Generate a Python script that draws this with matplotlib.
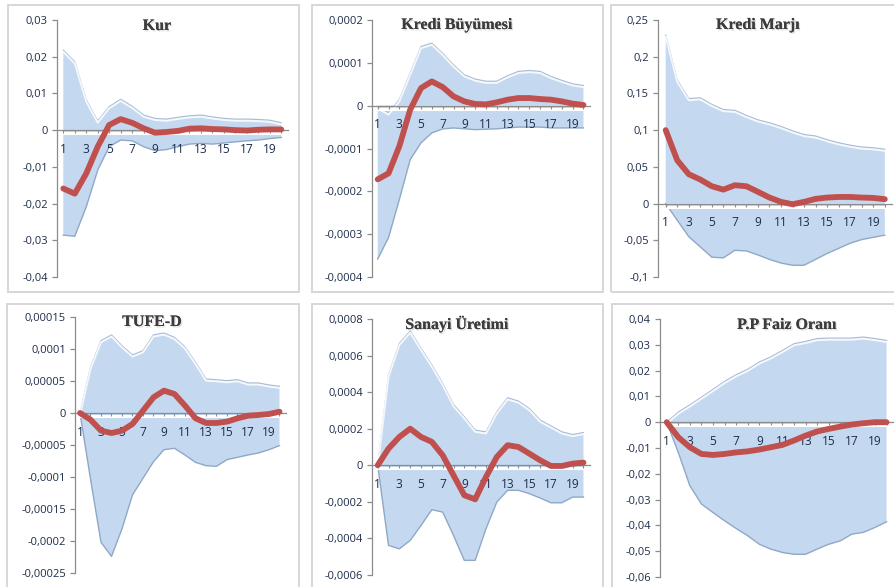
import matplotlib
matplotlib.use("Agg")
import matplotlib.pyplot as plt
import matplotlib.transforms as mtransforms
import matplotlib.patheffects as pe
from matplotlib.patches import Rectangle

# ---------------- data ----------------
periods = list(range(1, 21))

titles = ["Kur", "Kredi Büyümesi", "Kredi Marjı", "TUFE-D", "Sanayi Üretimi", "P.P Faiz Oranı"]

kur_irf = [-0.0159, -0.0173, -0.0118, -0.0045, 0.0014, 0.0030, 0.0020, 0.0005, -0.0007, -0.0005,
           -0.0002, 0.0004, 0.0005, 0.0003, 0.0002, 0.0000, -0.0001, 0.0001, 0.0002, 0.0002]
kur_upper = [0.0218, 0.0186, 0.0082, 0.0025, 0.0064, 0.0084, 0.0065, 0.0041, 0.0032, 0.0030,
             0.0035, 0.0039, 0.0041, 0.0036, 0.0032, 0.0030, 0.0030, 0.0029, 0.0027, 0.0020]
kur_lower = [-0.0286, -0.0289, -0.0209, -0.0109, -0.0045, -0.0027, -0.0029, -0.0045, -0.0056, -0.0053,
             -0.0045, -0.0038, -0.0036, -0.0038, -0.0035, -0.0032, -0.0029, -0.0027, -0.0023, -0.0020]
kur_ticks = [-0.04, -0.03, -0.02, -0.01, 0.0, 0.01, 0.02, 0.03]
kur_ticklabels = ["-0,04", "-0,03", "-0,02", "-0,01", "0", "0,01", "0,02", "0,03"]

kb_irf = [-0.000172, -0.000158, -0.0000946, -0.0000093, 0.000041, 0.0000566, 0.0000434, 0.0000217, 0.00001, 0.000004,
          0.000003, 0.0000078, 0.000014, 0.0000178, 0.0000178, 0.0000155, 0.000014, 0.00001, 0.0000047, 0.0000016]
kb_upper = [-0.000003, -0.000017, 0.000014, 0.000076, 0.000138, 0.000146, 0.000122, 0.000095, 0.000072, 0.000062,
            0.000057, 0.000057, 0.00007, 0.00008, 0.000082, 0.00008, 0.000068, 0.000059, 0.000051, 0.000047]
kb_lower = [-0.000358, -0.000308, -0.000219, -0.000126, -0.0000868, -0.0000636, -0.0000543, -0.000052, -0.000054, -0.000056,
            -0.000055, -0.000054, -0.000052, -0.00005, -0.00005, -0.00005, -0.000052, -0.000052, -0.000052, -0.000052]
kb_ticks = [-0.0004, -0.0003, -0.0002, -0.0001, 0.0, 0.0001, 0.0002]
kb_ticklabels = ["-0,0004", "-0,0003", "-0,0002", "-0,0001", "0", "0,0001", "0,0002"]

km_irf = [0.100, 0.059, 0.040, 0.0327, 0.0236, 0.019, 0.025, 0.0236, 0.016, 0.0082,
          0.0023, -0.0009, 0.0023, 0.0064, 0.0082, 0.009, 0.009, 0.0082, 0.0077, 0.006]
km_upper = [0.2295, 0.168, 0.143, 0.144, 0.135, 0.128, 0.127, 0.120, 0.114, 0.110,
            0.105, 0.099, 0.094, 0.092, 0.087, 0.0827, 0.0795, 0.077, 0.076, 0.074]
km_lower = [0.0, -0.0227, -0.045, -0.059, -0.073, -0.074, -0.0636, -0.0645, -0.070, -0.076,
            -0.081, -0.084, -0.084, -0.076, -0.068, -0.061, -0.054, -0.049, -0.046, -0.043]
km_ticks = [-0.1, -0.05, 0.0, 0.05, 0.1, 0.15, 0.2, 0.25]
km_ticklabels = ["-0,1", "-0,05", "0", "0,05", "0,1", "0,15", "0,2", "0,25"]

tufe_irf = [0.0, -0.0000104, -0.0000276, -0.0000313, -0.0000276, -0.0000172, 0.0000036, 0.0000245, 0.0000349, 0.0000297,
            0.0000115, -0.0000083, -0.0000156, -0.0000156, -0.0000135, -0.0000083, -0.0000042, -0.0000031, -0.0000016, 0.000002]
tufe_upper = [0.0, 0.0000714, 0.000113, 0.000122, 0.000105, 0.0000906, 0.0000974, 0.000122, 0.000125, 0.000118,
              0.000103, 0.0000792, 0.0000531, 0.000052, 0.0000505, 0.000052, 0.0000469, 0.0000469, 0.0000438, 0.0000417]
tufe_lower = [0.0, -0.000103, -0.000202, -0.000224, -0.000181, -0.000128, -0.000102, -0.000076, -0.0000573, -0.0000552,
              -0.0000656, -0.0000771, -0.0000823, -0.0000833, -0.0000729, -0.0000693, -0.0000656, -0.0000625, -0.0000573, -0.000051]
tufe_ticks = [-0.00025, -0.0002, -0.00015, -0.0001, -0.00005, 0.0, 0.00005, 0.0001, 0.00015]
tufe_ticklabels = ["-0,00025", "-0,0002", "-0,00015", "-0,0001", "-0,00005", "0", "0,00005", "0,0001", "0,00015"]

su_irf = [0.0, 0.0000913, 0.000155, 0.0002, 0.000155, 0.000128, 0.0000548, -0.0000548, -0.000164, -0.000186,
          -0.0000639, 0.0000457, 0.00011, 0.0001, 0.0000639, 0.0000274, -0.0000037, -0.0000037, 0.0000091, 0.0000146]
su_upper = [0.0, 0.000493, 0.000667, 0.000734, 0.000639, 0.000548, 0.000447, 0.000332, 0.000265, 0.000192,
            0.000183, 0.000292, 0.000369, 0.000351, 0.00031, 0.000247, 0.000215, 0.000183, 0.000168, 0.000179]
su_lower = [0.0, -0.000438, -0.000457, -0.000411, -0.000329, -0.000243, -0.000256, -0.000384, -0.00052, -0.00052,
            -0.000347, -0.000201, -0.000137, -0.000137, -0.000155, -0.000179, -0.000205, -0.000205, -0.000174, -0.000174]
su_ticks = [-0.0006, -0.0004, -0.0002, 0.0, 0.0002, 0.0004, 0.0006, 0.0008]
su_ticklabels = ["-0,0006", "-0,0004", "-0,0002", "0", "0,0002", "0,0004", "0,0006", "0,0008"]

pp_irf = [0.0, -0.0058, -0.0097, -0.0123, -0.0127, -0.0123, -0.0117, -0.0113, -0.0106, -0.0097,
          -0.0088, -0.0071, -0.0052, -0.0036, -0.0026, -0.0017, -0.0009, -0.0004, 0.0, 0.0]
pp_upper = [0.0, 0.0039, 0.0067, 0.0097, 0.0127, 0.0158, 0.0184, 0.0205, 0.0233, 0.0253,
            0.0278, 0.0304, 0.0313, 0.0324, 0.0326, 0.0326, 0.0326, 0.033, 0.0324, 0.0317]
pp_lower = [0.0, -0.0117, -0.0246, -0.0317, -0.035, -0.0382, -0.0412, -0.044, -0.0473, -0.0492,
            -0.0505, -0.0512, -0.0512, -0.0492, -0.0473, -0.046, -0.0434, -0.0427, -0.0408, -0.0386]
pp_ticks = [-0.06, -0.05, -0.04, -0.03, -0.02, -0.01, 0.0, 0.01, 0.02, 0.03, 0.04]
pp_ticklabels = ["-0,06", "-0,05", "-0,04", "-0,03", "-0,02", "-0,01", "0", "0,01", "0,02", "0,03", "0,04"]

# ---------------- layout (pixels) ----------------
W, H = 895, 587
fig = plt.figure(figsize=(W / 100, H / 100), dpi=100)
fig.patch.set_facecolor("white")

panels = [
    dict(irf=kur_irf, up=kur_upper, lo=kur_lower, ticks=kur_ticks, tl=kur_ticklabels,
         box=(8, 5, 299, 292), ax_x=57, x1=63.3, step=11.47, ytop=20, ybot=277, tt=(157, 26)),
    dict(irf=kb_irf, up=kb_upper, lo=kb_lower, ticks=kb_ticks, tl=kb_ticklabels,
         box=(312, 5, 603, 292), ax_x=372, x1=377.7, step=10.83, ytop=20, ybot=277, tt=(457, 25)),
    dict(irf=km_irf, up=km_upper, lo=km_lower, ticks=km_ticks, tl=km_ticklabels,
         box=(611, 5, 899, 292), ax_x=658, x1=665.7, step=11.53, ytop=20, ybot=277, tt=(758, 25)),
    dict(irf=tufe_irf, up=tufe_upper, lo=tufe_lower, ticks=tufe_ticks, tl=tufe_ticklabels,
         box=(7, 304, 299, 592), ax_x=75, x1=80, step=10.5, ytop=317, ybot=573, tt=(152, 322)),
    dict(irf=su_irf, up=su_upper, lo=su_lower, ticks=su_ticks, tl=su_ticklabels,
         box=(312, 304, 603, 592), ax_x=372, x1=377.7, step=10.83, ytop=319, ybot=575, tt=(457, 324)),
    dict(irf=pp_irf, up=pp_upper, lo=pp_lower, ticks=pp_ticks, tl=pp_ticklabels,
         box=(612, 304, 899, 592), ax_x=660, x1=666.7, step=11.57, ytop=319, ybot=577, tt=(787, 325)),
]

fill_color = "#C4D8F0"
edge_up = "#A9BDD6"
edge_lo = "#8FA8C6"
red = "#C0504D"
axis_grey = "#8C8C8C"
label_color = "#1F2D4A"

for title, p in zip(titles, panels):
    l, t, r, b = p["box"]
    fig.patches.append(Rectangle((l / W, 1 - b / H), (r - l) / W, (b - t) / H,
                                 transform=fig.transFigure, fill=False,
                                 edgecolor="#D4D4D4", linewidth=1.3, zorder=0))
    right_px = p["x1"] + 19.6 * p["step"]
    ax = fig.add_axes([p["ax_x"] / W, 1 - p["ybot"] / H,
                       (right_px - p["ax_x"]) / W, (p["ybot"] - p["ytop"]) / H])
    ax.set_facecolor("none")
    xmin = 1 - (p["x1"] - p["ax_x"]) / p["step"]
    ax.set_xlim(xmin, 20.6)
    ax.set_ylim(p["ticks"][0], p["ticks"][-1])

    ax.fill_between(periods, 0, p["up"], facecolor=fill_color, edgecolor="none", zorder=1)
    ax.fill_between(periods, p["lo"], 0, facecolor=fill_color, edgecolor="none", zorder=1)
    ax.plot(periods, p["up"], color=edge_up, lw=0.9, zorder=1.2)
    off = mtransforms.offset_copy(ax.transData, fig=fig, x=0, y=-1.6, units="dots")
    ax.plot(periods, p["up"], color="white", lw=1.4, alpha=0.85, transform=off, zorder=1.3)
    ax.plot(periods, p["lo"], color=edge_lo, lw=1.0, zorder=1.2)
    off2 = mtransforms.offset_copy(ax.get_yaxis_transform(), fig=fig, x=0, y=-3, units="dots")
    ax.plot([0, 1], [0, 0], color="white", lw=2.2, transform=off2, zorder=1.3)

    ax.plot(periods, p["irf"], color=red, lw=4.2, solid_capstyle="round",
            solid_joinstyle="round", zorder=4)

    for s in ["top", "right"]:
        ax.spines[s].set_visible(False)
    ax.spines["left"].set_color(axis_grey)
    ax.spines["left"].set_linewidth(0.9)
    ax.spines["bottom"].set_position(("data", 0))
    ax.spines["bottom"].set_color(axis_grey)
    ax.spines["bottom"].set_linewidth(0.9)
    ax.spines["bottom"].set_zorder(3)

    ax.set_yticks(p["ticks"])
    ax.set_yticklabels(p["tl"])
    ax.set_xticks(periods)
    ax.set_xticklabels([str(v) if v % 2 == 1 else "" for v in periods])
    ax.tick_params(axis="y", direction="out", length=3.5, width=0.9, color=axis_grey,
                   labelsize=8, labelcolor=label_color, pad=3)
    ax.tick_params(axis="x", direction="out", length=2.5, width=0.8, color=axis_grey,
                   labelsize=8.6, labelcolor=label_color, pad=6.5)
    for lab in ax.get_xticklabels() + ax.get_yticklabels():
        lab.set_fontfamily("Open Sans")

    fig.text(p["tt"][0] / W, 1 - p["tt"][1] / H, title, ha="center", va="center",
             fontfamily="Liberation Serif", fontweight="bold", fontsize=11.5, color="#3C3C3C",
             path_effects=[pe.withSimplePatchShadow(offset=(1, -1), shadow_rgbFace="#C8C8C8", alpha=0.6),
                           pe.Normal()])

fig.savefig("out.png", dpi=100, facecolor="white")
